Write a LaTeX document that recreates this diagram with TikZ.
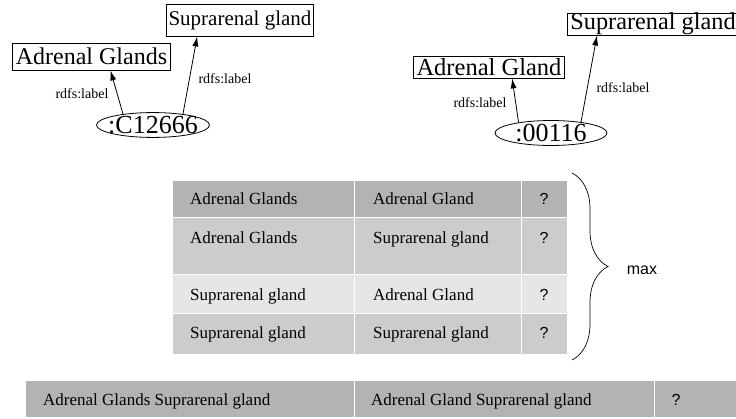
\documentclass[tikz,border=0pt]{standalone}
\usepackage{fontspec}
\setmainfont{Liberation Serif}
\setsansfont{Liberation Sans}
\usetikzlibrary{arrows.meta,shapes.geometric,positioning,decorations.pathreplacing}

\definecolor{rowdark}{HTML}{B3B3B3}
\definecolor{rowmid}{HTML}{CCCCCC}
\definecolor{rowlight}{HTML}{E6E6E6}

\tikzset{
    lblbox/.style={draw, line width=0.8pt, inner xsep=3pt, inner ysep=0pt},
    resnode/.style={draw, ellipse, line width=0.8pt, inner sep=0pt},
    edgetxt/.style={font=\fontsize{14}{16}\selectfont},
    rel/.style={-{Latex[length=10pt,width=6pt]}, line width=0.8pt},
    celltxt/.style={anchor=base west, inner sep=0pt, font=\fontsize{17}{20}\selectfont},
    qmark/.style={anchor=base, inner sep=0pt, font=\sffamily\fontsize{16}{19}\selectfont}
}

\begin{document}
\begin{tikzpicture}[x=1pt,y=-1pt]
    \useasboundingbox (0,0) rectangle (736,418);

    % first resource with its two labels
    \node[lblbox, minimum height=27pt, font=\fontsize{24}{28}\selectfont] (adg) at (91.5,56.5) {Adrenal Glands};
    \node[lblbox, minimum height=32pt, inner xsep=2pt, font=\fontsize{21}{24}\selectfont] (sg1) at (240,20) {Suprarenal gland};
    \node[resnode, minimum width=113pt, minimum height=24pt, font=\fontsize{26}{28}\selectfont] (c1) at (153,125) {\makebox[0pt]{:C12666}};

    \draw[rel] (c1.160) -- ([xshift=98pt]adg.south west);
    \draw[rel] (c1.20) -- ([xshift=31pt]sg1.south west);
    \node[edgetxt] (lab1) at (82,94) {rdfs:label};
    \node[edgetxt] (lab2) at (225,79) {rdfs:label};

    % second resource with its two labels
    \node[lblbox, minimum height=22pt, font=\fontsize{24.5}{28}\selectfont] (ag) at (489,67) {Adrenal Gland};
    \node[lblbox, minimum height=22pt, anchor=west, font=\fontsize{24.3}{28}\selectfont] (sg2) at (567,24) {Suprarenal gland};
    \node[resnode, minimum width=112pt, minimum height=22pt, font=\fontsize{26}{28}\selectfont] (c2) at (551,133) {\makebox[0pt]{:00116}};

    \draw[rel] (c2.162) -- ([xshift=99pt]ag.south west);
    \draw[rel] (c2.20) -- ([xshift=30pt]sg2.south west);
    \node[edgetxt] (lab3) at (480,103) {rdfs:label};
    \node[edgetxt] (lab4) at (623,88) {rdfs:label};

    % table of label pairs, white gaps between cells
    \foreach \ya/\yb/\col in {180/217/rowdark, 217/274/rowmid, 274/313/rowlight, 313/354/rowmid} {
        \foreach \xa/\xb in {172/354, 354/521, 521/567} {
            \fill[\col] (\xa+0.5,\ya+0.5) rectangle (\xb-0.5,\yb-0.5);
        }
    }

    \node[celltxt] (r1a) at (190,204) {Adrenal Glands};
    \node[celltxt] (r1b) at (373,204) {Adrenal Gland};
    \node[qmark] (r1c) at (544,204) {?};
    \node[celltxt] (r2a) at (190,243) {Adrenal Glands};
    \node[celltxt] (r2b) at (373,243) {Suprarenal gland};
    \node[qmark] (r2c) at (544,243) {?};
    \node[celltxt] (r3a) at (190,300) {Suprarenal gland};
    \node[celltxt] (r3b) at (373,300) {Adrenal Gland};
    \node[qmark] (r3c) at (544,300) {?};
    \node[celltxt] (r4a) at (190,338) {Suprarenal gland};
    \node[celltxt] (r4b) at (373,338) {Suprarenal gland};
    \node[qmark] (r4c) at (544,338) {?};

    % brace over all rows
    \draw[decorate, decoration={brace, amplitude=36pt}, line width=0.7pt] (572,173) -- (572,360);
    \node[font=\sffamily\fontsize{16}{19}\selectfont] (maxlbl) at (642,270) {max};

    % concatenated labels
    \foreach \xa/\xb in {25/354, 354/654, 654/737} {
        \fill[rowdark] (\xa+0.5,381) rectangle (\xb-0.5,417);
    }
    \node[celltxt] (ba) at (43,405) {Adrenal Glands Suprarenal gland};
    \node[celltxt] (bb) at (371,405) {Adrenal Gland Suprarenal gland};
    \node[qmark] (bc) at (676,405) {?};
\end{tikzpicture}
\end{document}
